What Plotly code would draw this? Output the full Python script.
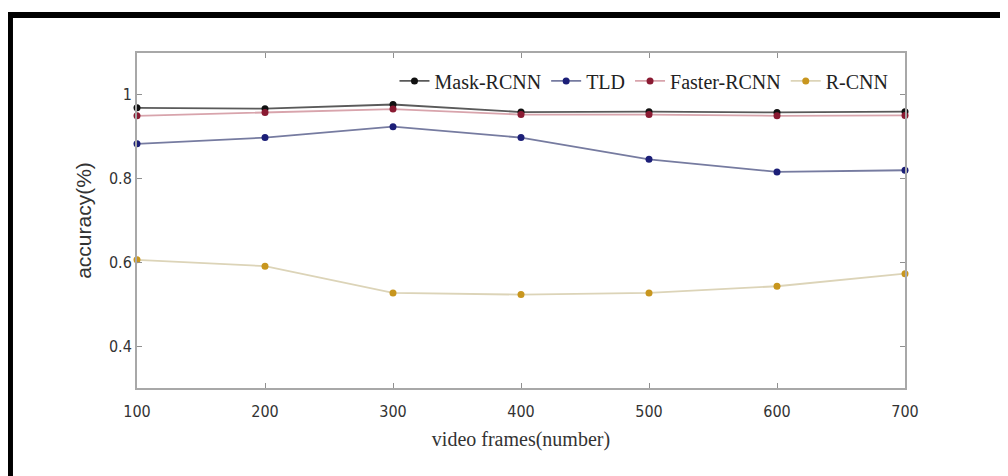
import plotly.graph_objects as go

frames = [100, 200, 300, 400, 500, 600, 700]
mask_rcnn = [0.969, 0.967, 0.977, 0.959, 0.960, 0.958, 0.960]
tld = [0.883, 0.898, 0.924, 0.898, 0.846, 0.816, 0.820]
faster_rcnn = [0.950, 0.958, 0.966, 0.953, 0.953, 0.950, 0.951]
r_cnn = [0.606, 0.591, 0.527, 0.523, 0.527, 0.543, 0.573]

y_ticks = [0.4, 0.6, 0.8, 1.0]
y_tick_text = ["0.4", "0.6", "0.8", "1"]
x_ticks = frames
x_tick_text = [str(v) for v in frames]

series = [
    ("Mask-RCNN", mask_rcnn, "#5a5a5a", "#111111"),
    ("TLD", tld, "#767ba0", "#1c1f78"),
    ("Faster-RCNN", faster_rcnn, "#d8a4ac", "#8a1a32"),
    ("R-CNN", r_cnn, "#dcd4b8", "#c8961e"),
]

fig = go.Figure()
for name, vals, lc, mc in series:
    fig.add_trace(go.Scatter(
        x=frames, y=vals, name=name, mode="lines+markers",
        line=dict(color=lc, width=1.8),
        marker=dict(color=mc, size=7, symbol="circle"),
        cliponaxis=False,
    ))

tick_font = dict(family="DejaVu Sans Condensed, Liberation Sans Narrow, Liberation Sans, Arial",
                 size=16, color="#333333")

axis_common = dict(
    showline=True, linecolor="#a8a8a8", linewidth=2, mirror="ticks",
    ticks="inside", ticklen=5, tickcolor="#909090", tickwidth=1,
    showgrid=False, zeroline=False,
    tickfont=tick_font,
)

fig.update_xaxes(
    range=[100, 700], tickvals=x_ticks, ticktext=x_tick_text,
    ticklabelstandoff=8,
    title=dict(text="video frames(number)", standoff=12,
               font=dict(family="Liberation Serif, Times New Roman, serif", size=20, color="#333333")),
    **axis_common,
)
fig.update_yaxes(
    range=[0.3, 1.1], tickvals=y_ticks, ticktext=y_tick_text,
    title=dict(text="accuracy(%)", standoff=12,
               font=dict(family="Liberation Sans, Arial", size=21, color="#333333")),
    **axis_common,
)

# page body has an 8px default margin; figure sized/offset to compensate
fig.update_layout(
    width=1000, height=468,
    margin=dict(l=129, r=103, t=45, b=88),
    paper_bgcolor="white", plot_bgcolor="white",
    showlegend=True,
    legend=dict(
        orientation="h", x=0.985, xanchor="right", y=0.975, yanchor="top",
        bgcolor="rgba(0,0,0,0)", borderwidth=0,
        font=dict(family="Liberation Serif, Times New Roman, serif", size=20, color="#222222"),
        itemwidth=30, tracegroupgap=0,
    ),
    shapes=[dict(
        type="rect", xref="paper", yref="paper",
        x0=-0.1654, x1=1.14, y0=-0.28, y1=1.1134,
        line=dict(color="black", width=6), fillcolor="rgba(0,0,0,0)",
        layer="above",
    )],
)

fig.write_html("out.html")
